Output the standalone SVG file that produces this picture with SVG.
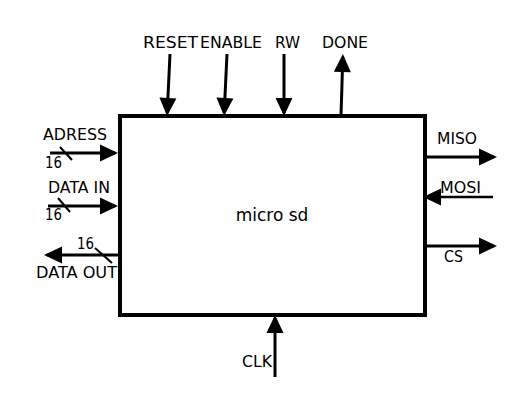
<svg xmlns="http://www.w3.org/2000/svg" width="519" height="411" viewBox="0 0 519 411">
<style>
.lbl{font-family:"DejaVu Sans","Liberation Sans",sans-serif;font-size:16px;fill:#000}
.w{stroke:#000;stroke-width:3;fill:none}
.sl{stroke:#000;stroke-width:2;fill:none}
</style>
<defs>
<marker id="ah" markerUnits="userSpaceOnUse" markerWidth="18" markerHeight="17" refX="15" refY="8.5" orient="auto" overflow="visible">
<path d="M0,0 L18,8.5 L0,17 Z" fill="#000"/>
</marker>
</defs>
<rect width="519" height="411" fill="#fff"/>
<g id="micro_sd">
<rect x="120" y="116" width="305" height="199" fill="#fff" stroke="#000" stroke-width="4"/>
<text class="lbl" x="272" y="221" text-anchor="middle" style="font-size:17px">micro sd</text>
</g>
<g id="connectors">
<path class="w" d="M50,153 L115,153" marker-end="url(#ah)"/>
<path class="w" d="M48,206 L115,206" marker-end="url(#ah)"/>
<path class="w" d="M118,255 L47,255" marker-end="url(#ah)"/>
<path class="w" d="M170,54 L167.2,113" marker-end="url(#ah)"/>
<path class="w" d="M227,54 L224.2,113" marker-end="url(#ah)"/>
<path class="w" d="M284,54 L284,113" marker-end="url(#ah)"/>
<path class="w" d="M341,116 L342.8,57" marker-end="url(#ah)"/>
<path class="w" d="M427,157 L494,157" marker-end="url(#ah)"/>
<path class="w" d="M493,197 L426,197" marker-end="url(#ah)" style="stroke-width:2.5"/>
<path class="w" d="M427,246 L494,246" marker-end="url(#ah)"/>
<path class="w" d="M275,377 L275,318" marker-end="url(#ah)"/>
<path class="sl" d="M60,147 L72,160"/>
<path class="sl" d="M58,198 L70,212"/>
<path class="sl" d="M95,248 L112,263"/>
</g>
<g id="labels">
<text class="lbl" x="43" y="140" textLength="64" lengthAdjust="spacingAndGlyphs">ADRESS</text>
<text class="lbl" x="45" y="168" textLength="17" lengthAdjust="spacingAndGlyphs" style="font-size:15px">16</text>
<text class="lbl" x="48" y="193" textLength="62" lengthAdjust="spacingAndGlyphs">DATA IN</text>
<text class="lbl" x="45" y="220" textLength="17" lengthAdjust="spacingAndGlyphs" style="font-size:15px">16</text>
<text class="lbl" x="77" y="249" textLength="17" lengthAdjust="spacingAndGlyphs" style="font-size:15px">16</text>
<text class="lbl" x="36" y="278" textLength="81" lengthAdjust="spacingAndGlyphs">DATA OUT</text>
<text class="lbl" x="143" y="48" textLength="55" lengthAdjust="spacingAndGlyphs">RESET</text>
<text class="lbl" x="200" y="48" textLength="62" lengthAdjust="spacingAndGlyphs">ENABLE</text>
<text class="lbl" x="275" y="48" textLength="25" lengthAdjust="spacingAndGlyphs">RW</text>
<text class="lbl" x="322" y="48" textLength="46" lengthAdjust="spacingAndGlyphs">DONE</text>
<text class="lbl" x="437" y="144" textLength="40" lengthAdjust="spacingAndGlyphs">MISO</text>
<text class="lbl" x="440" y="193" textLength="41" lengthAdjust="spacingAndGlyphs">MOSI</text>
<text class="lbl" x="444" y="262" textLength="19" lengthAdjust="spacingAndGlyphs">CS</text>
<text class="lbl" x="242" y="367" textLength="30" lengthAdjust="spacingAndGlyphs">CLK</text>
</g>
</svg>
